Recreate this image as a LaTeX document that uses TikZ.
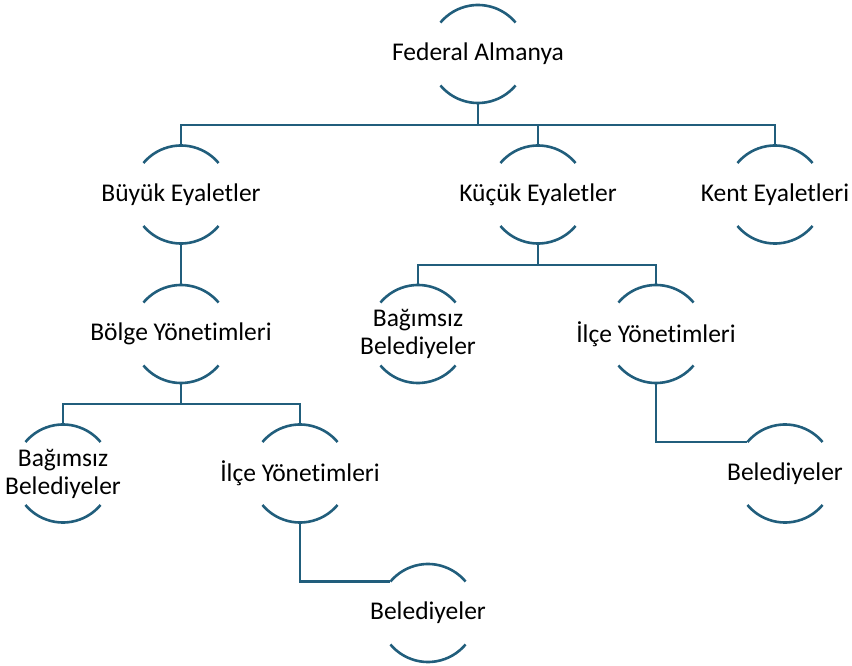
\documentclass[tikz,border=0pt]{standalone}
\usepackage{fontspec}
\setmainfont{Carlito}[Ligatures={NoCommon}]
\definecolor{teal1}{HTML}{215E7C}
\tikzset{
  ring/.style={circle, minimum size=98pt, inner sep=0pt, outer sep=0pt, draw=none},
  lbl/.style={inner sep=0pt, align=center, font=\fontsize{25.5}{28}\selectfont},
  ln/.style={draw=teal1, line width=2.6pt},
}
\newcommand\orgnode[3]{%
  \node[ring] (#1) at (#2) {};
  \node[lbl] (#1-t) at (#1.center) {#3};
  \draw[ln] (#1.40) arc (40:140:49pt);
  \draw[ln] (#1.220) arc (220:320:49pt);
}
\begin{document}
\begin{tikzpicture}[x=1pt,y=1pt]
\useasboundingbox (0,0) rectangle (852,665);
\orgnode{F}{478,611}{Federal Almanya}
\orgnode{BE}{181,470.5}{Büyük Eyaletler}
\orgnode{KE}{538,470.5}{Küçük Eyaletler}
\orgnode{KT}{775,470.5}{Kent Eyaletleri}
\orgnode{BY}{181,331}{Bölge Yönetimleri}
\orgnode{BB1}{418,331}{Bağımsız\\Belediyeler}
\orgnode{IY1}{656,331}{İlçe Yönetimleri}
\orgnode{BB2}{63,191.5}{Bağımsız\\Belediyeler}
\orgnode{IY2}{300,191.5}{İlçe Yönetimleri}
\orgnode{BL1}{785,191.5}{Belediyeler}
\orgnode{BL2}{428,52}{Belediyeler}
% connectors
\draw[ln] (F.south) -- (F.south |- 0,540);
\draw[ln] (BE.north) -- (BE.north |- 0,540) -- (KT.north |- 0,540) -- (KT.north);
\draw[ln] (KE.north) -- (KE.north |- 0,540);
\draw[ln] (BE.south) -- (BY.north);
\draw[ln] (KE.south) -- (KE.south |- 0,400);
\draw[ln] (BB1.north) -- (BB1.north |- 0,400) -- (IY1.north |- 0,400) -- (IY1.north);
\draw[ln] (BY.south) -- (BY.south |- 0,261);
\draw[ln] (BB2.north) -- (BB2.north |- 0,261) -- (IY2.north |- 0,261) -- (IY2.north);
\draw[ln] (IY1.south) |- (BL1.140);
\draw[ln] (IY2.south) |- (BL2.140);
\end{tikzpicture}
\end{document}
